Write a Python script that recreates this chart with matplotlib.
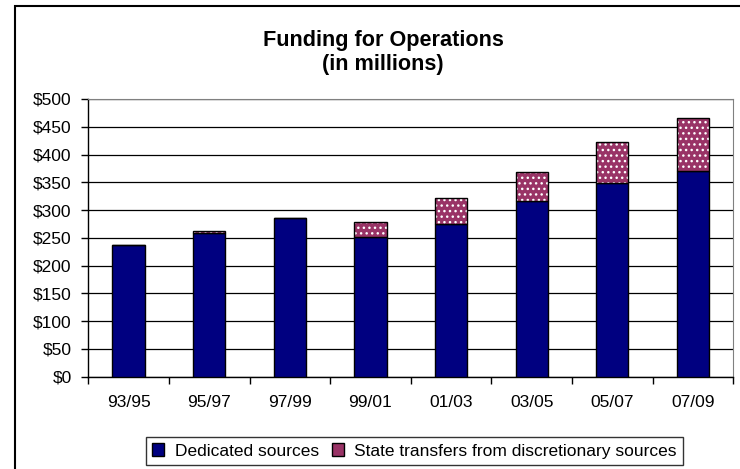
import numpy as np
from matplotlib import pyplot as plt
from matplotlib.patches import Patch, Rectangle

# datos (millones de dolares)
bienios = ['93/95', '95/97', '97/99', '99/01', '01/03', '03/05', '05/07', '07/09']
dedicados = [238, 258, 286, 251, 275, 316, 348, 371]
transferencias = [0, 5, 0, 28, 46, 52, 75, 95]

azul = '#000080'
magenta = '#993366'

plt.rcParams['font.family'] = ['Liberation Sans', 'DejaVu Sans']

fig = plt.figure(figsize=(7.4, 4.69), dpi=100)
ax = fig.add_axes([88.3/740, 1 - 376.7/469, (733.3 - 88.3)/740, (376.7 - 99)/469])

x = np.arange(len(bienios))
ancho = 0.4

ax.bar(x, dedicados, ancho, color=azul, edgecolor='black', linewidth=1, zorder=3)
# relleno punteado (el color del hatch sigue al edgecolor)
ax.bar(x, transferencias, ancho, bottom=dedicados, color=magenta,
       edgecolor='white', hatch='...', linewidth=0, zorder=3)
ax.bar(x, transferencias, ancho, bottom=dedicados, fill=False,
       edgecolor='black', linewidth=1, zorder=4)

ax.set_xlim(-0.5, len(bienios) - 0.5)
ax.set_ylim(0, 500)
ax.set_yticks(np.arange(0, 501, 50))
ax.set_yticklabels(['$%d' % v for v in np.arange(0, 501, 50)])
ax.yaxis.grid(True, color='black', linewidth=0.9, zorder=0)
ax.set_axisbelow(True)

ax.set_xticks(x)
ax.set_xticklabels(bienios)
ax.set_xticks(np.arange(len(bienios) + 1) - 0.5, minor=True)
ax.tick_params(axis='x', which='major', length=0, pad=13, labelsize=12.5)
ax.tick_params(axis='x', which='minor', length=5, width=1, direction='out')
ax.tick_params(axis='y', length=5, width=1, direction='out', pad=7, labelsize=12.5)

for lado in ['top', 'right']:
    ax.spines[lado].set_color('#808080')
for lado in ['left', 'bottom']:
    ax.spines[lado].set_color('black')
    ax.spines[lado].set_linewidth(1)

fig.text(383/740, 1 - 52.5/469, 'Funding for Operations\n(in millions)',
         ha='center', va='center', fontsize=15.6, fontweight='bold', linespacing=1.15)

handles = [Patch(facecolor=azul, edgecolor='black'),
           Patch(facecolor=magenta, edgecolor='black')]
leg = fig.legend(handles, ['Dedicated sources', 'State transfers from discretionary sources'],
                 loc='center', bbox_to_anchor=(414.5/740, 1 - 451/469), ncol=2,
                 fontsize=12.5, frameon=True, fancybox=False, edgecolor='black',
                 handlelength=0.7, handleheight=0.7, handletextpad=0.6,
                 columnspacing=0.75, borderpad=0.38, borderaxespad=0)
leg.get_frame().set_linewidth(1)

# marco exterior del grafico
fig.patches.append(Rectangle((15/740, -0.1), 1.2, 1 - 6/469 + 0.1, transform=fig.transFigure,
                             fill=False, edgecolor='black', linewidth=1.5))

fig.savefig('out.png', dpi=100)
